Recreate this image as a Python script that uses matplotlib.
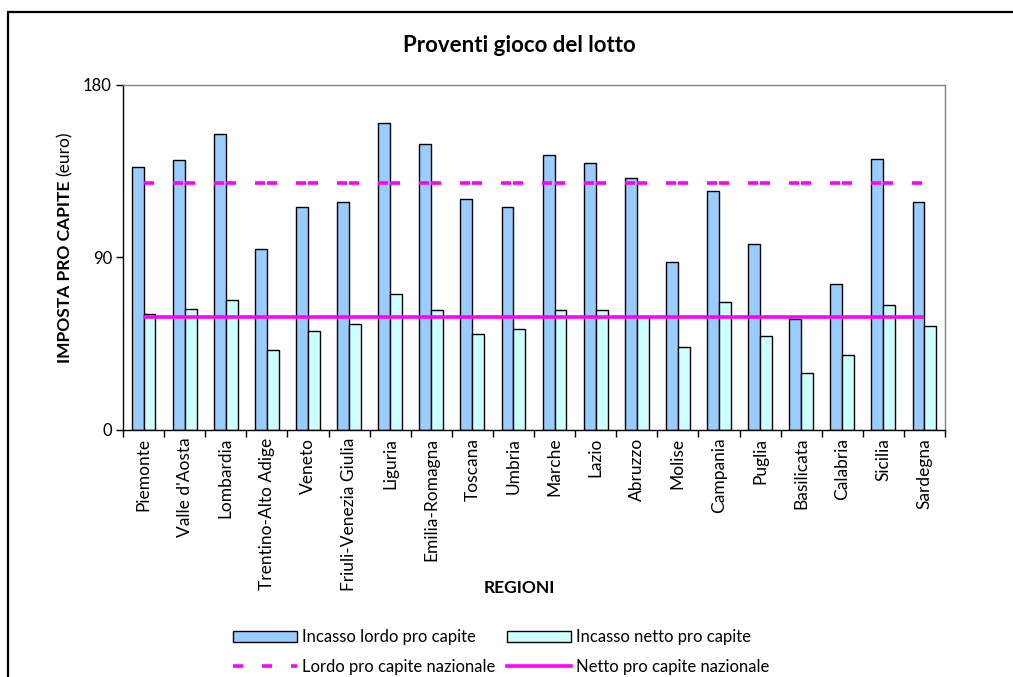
import numpy as np
import matplotlib
matplotlib.use('Agg')
from matplotlib import pyplot as plt
from matplotlib.lines import Line2D
from matplotlib.patches import Patch, Rectangle

plt.rcParams['font.family'] = ['Lato', 'DejaVu Sans']

regioni = ['Piemonte', "Valle d'Aosta", 'Lombardia', 'Trentino-Alto Adige', 'Veneto',
           'Friuli-Venezia Giulia', 'Liguria', 'Emilia-Romagna', 'Toscana', 'Umbria',
           'Marche', 'Lazio', 'Abruzzo', 'Molise', 'Campania', 'Puglia', 'Basilicata',
           'Calabria', 'Sicilia', 'Sardegna']
lordo = [137.0, 140.5, 154.0, 94.0, 116.1, 118.6, 160.0, 149.0, 120.5, 116.1,
         143.0, 138.8, 131.3, 87.4, 124.5, 96.8, 57.4, 75.8, 141.2, 118.6]
netto = [60.5, 63.1, 67.4, 41.4, 51.4, 54.8, 70.9, 62.4, 49.7, 52.3,
         62.2, 62.2, 58.7, 43.1, 66.6, 48.8, 29.5, 38.8, 64.8, 53.9]
lordo_naz = 128.8
netto_naz = 58.9
yticks = [0, 90, 180]

c_lordo = '#99CCFF'
c_netto = '#CCFFFF'
magenta = '#FF00FF'

W, H = 1013, 677
fig = plt.figure(figsize=(W / 100, H / 100), dpi=100)
ax = fig.add_axes([123 / W, 1 - 429.5 / H, 822 / W, 345 / H])

x = np.arange(len(regioni))
bw = 0.29
ax.bar(x - bw / 2, lordo, bw, color=c_lordo, edgecolor='black', linewidth=1.0, zorder=2)
ax.bar(x + bw / 2, netto, bw, color=c_netto, edgecolor='black', linewidth=1.0, zorder=2)

# dashed line: Excel restarts the dash pattern on every segment
lw = 2.6
dash = (0, (2.77, 5.27))
for i in range(len(x) - 1):
    ax.plot([x[i], x[i + 1]], [lordo_naz, lordo_naz], color=magenta, lw=lw,
            linestyle=dash, solid_capstyle='butt', dash_capstyle='butt', zorder=3)
ax.plot(x, [netto_naz] * len(x), color=magenta, lw=lw, solid_capstyle='butt', zorder=3)

ax.set_xlim(-0.5, len(x) - 0.5)
ax.set_ylim(0, 180)
ax.set_yticks(yticks)
ax.set_yticklabels([str(v) for v in yticks], fontsize=12)
ax.set_xticks(x)
ax.set_xticklabels(regioni, rotation=90, fontsize=12.5)
ax.tick_params(axis='x', which='major', length=0, pad=6)
ax.set_xticks(np.arange(len(x) + 1) - 0.5, minor=True)
ax.tick_params(axis='x', which='minor', length=5, width=1, direction='out')
ax.tick_params(axis='y', length=5, width=1, direction='out', pad=3)

for s in ['top', 'right']:
    ax.spines[s].set_color('#808080')
    ax.spines[s].set_linewidth(1.0)
for s in ['left', 'bottom']:
    ax.spines[s].set_color('black')
    ax.spines[s].set_linewidth(1.0)

fig.text(519 / W, 1 - 46 / H, 'Proventi gioco del lotto', ha='center', va='center',
         fontsize=16, fontweight='bold')
fig.text(519 / W, 1 - 588 / H, 'REGIONI', ha='center', va='center',
         fontsize=12.5, fontweight='bold')
ysplit = 1 - 176 / H
fig.text(65 / W, ysplit, 'IMPOSTA PRO CAPITE ', rotation=90, rotation_mode='anchor',
         ha='right', va='center', fontsize=12.5, fontweight='bold')
fig.text(65 / W, ysplit, '(euro)', rotation=90, rotation_mode='anchor',
         ha='left', va='center', fontsize=12.5)

# order so that the two-column legend reads row by row
handles = [Patch(facecolor=c_lordo, edgecolor='black', linewidth=1.0),
           Line2D([], [], color=magenta, lw=lw, linestyle=dash, dash_capstyle='butt'),
           Patch(facecolor=c_netto, edgecolor='black', linewidth=1.0),
           Line2D([], [], color=magenta, lw=lw)]
labels = ['Incasso lordo pro capite', 'Lordo pro capite nazionale',
          'Incasso netto pro capite', 'Netto pro capite nazionale']
fig.legend(handles, labels, ncol=2, frameon=False, fontsize=12,
           loc='center left', bbox_to_anchor=(233 / W, 1 - 652 / H),
           handlelength=3.85, handleheight=0.65, handletextpad=0.3,
           columnspacing=0.66, labelspacing=0.8, borderpad=0, borderaxespad=0)

fig.add_artist(Rectangle((8 / W, -0.1), 1.2, (1 - 12 / H) + 0.1,
                         transform=fig.transFigure, fill=False, edgecolor='black',
                         linewidth=1.6))

fig.savefig('out.png', dpi=100)
